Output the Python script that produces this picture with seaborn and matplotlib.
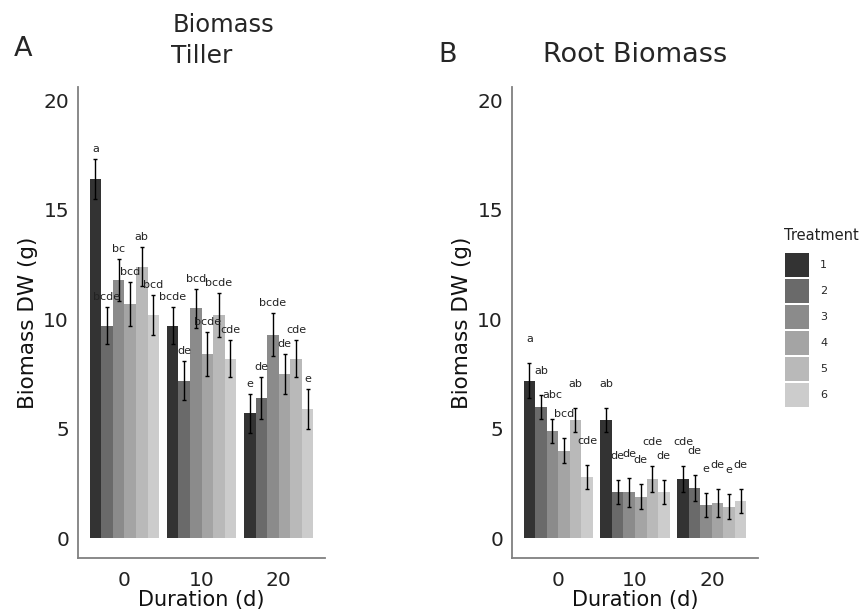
import matplotlib
matplotlib.use("Agg")
import matplotlib.pyplot as plt
import pandas as pd
import seaborn as sns

durations = ["0", "10", "20"]
treatments = ["1", "2", "3", "4", "5", "6"]

# values per duration, treatments 1-6 in order
tiller_mean = [16.4, 9.7, 11.8, 10.7, 12.4, 10.2,
               9.7, 7.2, 10.5, 8.4, 10.2, 8.2,
               5.7, 6.4, 9.3, 7.5, 8.2, 5.9]
tiller_se = [0.9, 0.85, 0.95, 1.0, 0.9, 0.9,
             0.85, 0.9, 0.9, 1.0, 1.0, 0.85,
             0.9, 0.95, 1.0, 0.9, 0.85, 0.9]
tiller_letters = ["a", "bcde", "bc", "bcd", "ab", "bcd",
                  "bcde", "de", "bcd", "bcde", "bcde", "cde",
                  "e", "de", "bcde", "de", "cde", "e"]

root_mean = [7.2, 6.0, 4.9, 4.0, 5.4, 2.8,
             5.4, 2.1, 2.1, 1.9, 2.7, 2.1,
             2.7, 2.3, 1.5, 1.6, 1.45, 1.7]
root_se = [0.8, 0.55, 0.55, 0.58, 0.55, 0.55,
           0.55, 0.55, 0.65, 0.58, 0.6, 0.55,
           0.6, 0.58, 0.55, 0.65, 0.55, 0.55]
root_letters = ["a", "ab", "abc", "bcd", "ab", "cde",
                "ab", "de", "de", "de", "cde", "de",
                "cde", "de", "e", "de", "e", "de"]

grey_fill = ["#333333", "#6A6A6A", "#8B8B8B", "#A4A4A4", "#B9B9B9", "#CCCCCC"]


def make_frame(mean, se, letters):
    return pd.DataFrame({
        "Duration": [d for d in durations for _ in treatments],
        "Treatment": treatments * len(durations),
        "mean": mean,
        "se": se,
        "letter": letters,
    })


def draw_panel(ax, df, label_pad):
    sns.barplot(data=df, x="Duration", y="mean", hue="Treatment",
                hue_order=treatments, palette=grey_fill, width=0.9,
                errorbar=None, linewidth=0, saturation=1, ax=ax)
    xs, ys, errs, texts = [], [], [], []
    for i, container in enumerate(ax.containers):
        for j, bar in enumerate(container):
            row = df.iloc[j * len(treatments) + i]
            xs.append(bar.get_x() + bar.get_width() / 2)
            ys.append(bar.get_height())
            errs.append(row["se"])
            texts.append(row["letter"])
    ax.errorbar(xs, ys, yerr=errs, fmt="none", ecolor="black",
                elinewidth=1.0, capsize=1.6, capthick=1.0)
    for x, y, e, t in zip(xs, ys, errs, texts):
        ax.text(x, y + e + label_pad, t, ha="center", va="center",
                fontsize=8, color="#222222")

    ax.set_xlim(-0.6, 2.6)
    ax.set_ylim(-0.9, 20.6)
    ax.set_yticks([0, 5, 10, 15, 20])
    ax.set_xlabel("Duration (d)", fontsize=15, labelpad=0, color="#111111")
    ax.set_ylabel("Biomass DW (g)", fontsize=15.5, labelpad=4, color="#111111")
    ax.tick_params(length=0, labelsize=14.5, colors="#222222")
    ax.tick_params(axis="x", pad=9.5)
    ax.tick_params(axis="y", pad=6.5)
    sns.despine(ax=ax)
    for side in ["left", "bottom"]:
        ax.spines[side].set_color("#808080")
        ax.spines[side].set_linewidth(1.3)


def main():
    sns.set_theme(style="white")
    plt.rcParams["font.family"] = ["DejaVu Sans"]

    fig = plt.figure(figsize=(8.68, 6.15), dpi=100)
    ax_a = fig.add_axes([0.0899, 0.0927, 0.2846, 0.7659])
    ax_b = fig.add_axes([0.5899, 0.0927, 0.2834, 0.7659])

    draw_panel(ax_a, make_frame(tiller_mean, tiller_se, tiller_letters), 0.45)
    ax_a.get_legend().remove()
    draw_panel(ax_b, make_frame(root_mean, root_se, root_letters), 1.1)

    # legend keys: 24 px squares with a 2 px gap, title placed separately
    handles, labels = ax_b.get_legend_handles_labels()
    ax_b.get_legend().remove()
    fs_px = 8 * 100 / 72
    hh = (24 / fs_px - 0.245) / 0.65
    fig.legend(handles, labels, loc="upper left",
               bbox_to_anchor=(785 / 868, 1 - 253 / 615),
               frameon=False, fontsize=8, handlelength=24 / fs_px,
               handleheight=hh, labelspacing=2 / fs_px,
               handletextpad=1.0, borderpad=0, borderaxespad=0)
    fig.text(784 / 868, 1 - 236 / 615, "Treatment", fontsize=10.5,
             va="center", ha="left", color="#222222")

    fig.text(14 / 868, 1 - 56 / 615, "A", fontsize=19.5, va="baseline", ha="left")
    fig.text(438 / 868, 1 - 62 / 615, "B", fontsize=19.5, va="baseline", ha="left")
    fig.text(223 / 868, 1 - 32 / 615, "Biomass", fontsize=17.5, va="baseline", ha="center")
    fig.text(201.5 / 868, 1 - 63 / 615, "Tiller", fontsize=18, va="baseline", ha="center")
    fig.text(635 / 868, 1 - 62 / 615, "Root Biomass", fontsize=19.5, va="baseline", ha="center")

    fig.savefig("out.png", dpi=100)
    plt.close(fig)


if __name__ == "__main__":
    main()
